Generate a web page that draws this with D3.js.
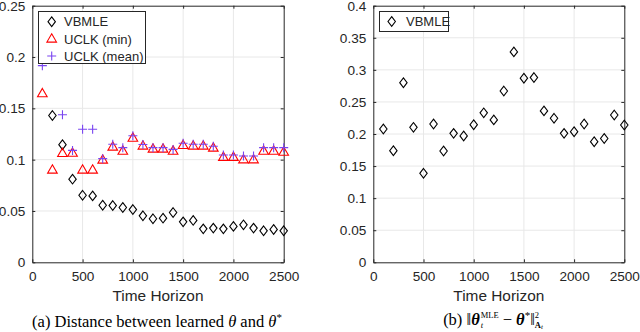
<!DOCTYPE html>
<html>
<head>
<meta charset="utf-8">
<script src="https://cdn.jsdelivr.net/npm/d3@7/dist/d3.min.js"></script>
<style>
  body { margin: 0; background: #fff; }
  svg { display: block; }
  text { font-family: "Liberation Sans", Arial, sans-serif; fill: #262626; }
  .cap { font-family: "Liberation Serif", "Times New Roman", serif; fill: #000; }
</style>
</head>
<body>
<svg width="640" height="332"></svg>
<script>
// left panel: distance between learned theta and theta*
var vbmleX  = [200,300,400,500,600,700,800,900,1000,1100,1200,1300,1400,1500,1600,1700,1800,1900,2000,2100,2200,2300,2400,2500];
var vbmleY  = [0.143,0.1146,0.081,0.0653,0.0647,0.0556,0.0553,0.0534,0.0514,0.0453,0.0424,0.043,0.0485,0.0394,0.0408,0.0326,0.0333,0.0326,0.035,0.0365,0.0333,0.0307,0.032,0.0307];
var minX    = [100,200,300,400,500,600,700,800,900,1000,1100,1200,1300,1400,1500,1600,1700,1800,1900,2000,2100,2200,2300,2400,2500];
var minY    = [0.164,0.0896,0.1058,0.106,0.0896,0.0896,0.0993,0.112,0.108,0.1207,0.113,0.110,0.110,0.108,0.1136,0.113,0.113,0.111,0.102,0.102,0.0996,0.0996,0.108,0.108,0.107];
var meanX   = [100,300,400,500,600,700,800,900,1000,1100,1200,1300,1400,1500,1600,1700,1800,1900,2000,2100,2200,2300,2400,2500];
var meanY   = [0.1916,0.1437,0.109,0.1297,0.1297,0.101,0.115,0.1117,0.1233,0.1148,0.1117,0.1117,0.110,0.116,0.115,0.115,0.113,0.1045,0.1045,0.1035,0.1035,0.1117,0.1117,0.1117];

// right panel: weighted norm of MLE error
var normX   = [100,200,300,400,500,600,700,800,900,1000,1100,1200,1300,1400,1500,1600,1700,1800,1900,2000,2100,2200,2300,2400,2500];
var normY   = [0.2078,0.174,0.280,0.2104,0.1387,0.2156,0.1735,0.201,0.197,0.2145,0.233,0.222,0.267,0.328,0.287,0.288,0.236,0.2245,0.201,0.2036,0.2156,0.188,0.193,0.2296,0.214];

var xTicks  = [0,500,1000,1500,2000,2500];
var yTicksA = [0,0.05,0.1,0.15,0.2,0.25];
var yTicksB = [0,0.05,0.1,0.15,0.2,0.25,0.3,0.35,0.4];

var svg = d3.select("svg");
var top_ = 5.7, bottom = 262.3;

// MATLAB-like marker shapes
var diamond  = "M0,-4.8L3.7,0L0,4.8L-3.7,0Z";
var triangle = d3.symbol().type(d3.symbolTriangle).size(40);
var cross    = "M-4.5,0H4.5M0,-4.5V4.5";

function panel(x0, x1, yMax, yTicks) {
  var g = svg.append("g");
  var x = d3.scaleLinear().domain([0, 2500]).range([x0, x1]);
  var y = d3.scaleLinear().domain([0, yMax]).range([bottom, top_]);

  // grid
  g.selectAll(".gx").data(xTicks.slice(1, -1)).enter().append("line")
    .attr("x1", d => x(d)).attr("x2", d => x(d))
    .attr("y1", top_).attr("y2", bottom)
    .attr("stroke", "#e8e8e8").attr("stroke-width", 1);
  g.selectAll(".gy").data(yTicks.slice(1, -1)).enter().append("line")
    .attr("x1", x0).attr("x2", x1)
    .attr("y1", d => y(d)).attr("y2", d => y(d))
    .attr("stroke", "#e8e8e8").attr("stroke-width", 1);

  // axes (ticks inward), plus box mirror
  var fmt = d => d === 0 ? "0" : String(d);
  g.append("g").attr("transform", "translate(0," + bottom + ")")
    .call(d3.axisBottom(x).tickValues(xTicks).tickSizeInner(-3).tickSizeOuter(0).tickPadding(9).tickFormat(fmt));
  g.append("g").attr("transform", "translate(0," + top_ + ")")
    .call(d3.axisTop(x).tickValues(xTicks).tickSizeInner(-3).tickSizeOuter(0).tickFormat(""));
  g.append("g").attr("transform", "translate(" + x0 + ",0)")
    .call(d3.axisLeft(y).tickValues(yTicks).tickSizeInner(-3).tickSizeOuter(0).tickPadding(7).tickFormat(fmt));
  g.append("g").attr("transform", "translate(" + x1 + ",0)")
    .call(d3.axisRight(y).tickValues(yTicks).tickSizeInner(-3).tickSizeOuter(0).tickFormat(""));
  g.selectAll(".domain").attr("stroke", "#262626");
  g.selectAll(".tick line").attr("stroke", "#262626");
  g.selectAll(".tick text").attr("font-size", 13.6).attr("fill", "#262626")
    .style("font-family", "'Liberation Sans', Arial, sans-serif");

  g.append("text").attr("x", (x0 + x1) / 2).attr("y", 301)
    .attr("text-anchor", "middle").attr("font-size", 15.4).text("Time Horizon");

  return { g: g, x: x, y: y };
}

// ---- left panel
var A = panel(32.3, 283.7, 0.25, yTicksA);
A.g.selectAll(".vb").data(vbmleX).enter().append("path")
  .attr("d", diamond).attr("transform", (d, i) => "translate(" + A.x(d) + "," + A.y(vbmleY[i]) + ")")
  .attr("fill", "none").attr("stroke", "#000").attr("stroke-width", 1.1);
A.g.selectAll(".mn").data(minX).enter().append("path")
  .attr("d", triangle).attr("transform", (d, i) => "translate(" + A.x(d) + "," + A.y(minY[i]) + ")")
  .attr("fill", "none").attr("stroke", "#ff0000").attr("stroke-width", 1.1);
A.g.selectAll(".me").data(meanX).enter().append("path")
  .attr("d", cross).attr("transform", (d, i) => "translate(" + A.x(d) + "," + A.y(meanY[i]) + ")")
  .attr("fill", "none").attr("stroke", "#7a45f0").attr("stroke-width", 1.1);

// legend
var L = A.g.append("g");
L.append("rect").attr("x", 38.5).attr("y", 11.5).attr("width", 107).attr("height", 52)
  .attr("fill", "#fff").attr("stroke", "#262626").attr("stroke-width", 1);
var legA = [
  { name: "VBMLE", y: 21.7, d: diamond, c: "#000" },
  { name: "UCLK (min)", y: 39.3, d: triangle, c: "#ff0000" },
  { name: "UCLK (mean)", y: 56, d: cross, c: "#7a45f0" }
];
legA.forEach(function(e) {
  L.append("path").attr("d", e.d).attr("transform", "translate(51.7," + e.y + ")")
    .attr("fill", "none").attr("stroke", e.c).attr("stroke-width", 1.1);
  L.append("text").attr("x", 64).attr("y", e.y + 4.6).attr("font-size", 13).text(e.name);
});

// ---- right panel
var B = panel(373.3, 624.3, 0.4, yTicksB);
B.g.selectAll(".nb").data(normX).enter().append("path")
  .attr("d", diamond).attr("transform", (d, i) => "translate(" + B.x(d) + "," + B.y(normY[i]) + ")")
  .attr("fill", "none").attr("stroke", "#000").attr("stroke-width", 1.1);
var LB = B.g.append("g");
LB.append("rect").attr("x", 379.5).attr("y", 11.5).attr("width", 69).attr("height", 20)
  .attr("fill", "#fff").attr("stroke", "#262626").attr("stroke-width", 1);
LB.append("path").attr("d", diamond).attr("transform", "translate(391.7,21.5)")
  .attr("fill", "none").attr("stroke", "#000").attr("stroke-width", 1.1);
LB.append("text").attr("x", 406).attr("y", 26.1).attr("font-size", 13).text("VBMLE");

// ---- captions
var c1 = svg.append("text").attr("class", "cap").attr("x", 157).attr("y", 326.5)
  .attr("text-anchor", "middle").attr("font-size", 16.5);
c1.append("tspan").text("(a) Distance between learned ");
c1.append("tspan").attr("font-style", "italic").text("θ");
c1.append("tspan").text(" and ");
c1.append("tspan").attr("font-style", "italic").text("θ");
c1.append("tspan").attr("dy", -6).attr("font-size", 11).text("*");

var c2 = svg.append("text").attr("class", "cap").attr("x", 493).attr("y", 324.5)
  .attr("text-anchor", "middle").attr("font-size", 16.5);
c2.append("tspan").text("(b) ‖");
c2.append("tspan").attr("font-style", "italic").attr("font-weight", "bold").text("θ");
c2.append("tspan").attr("dx", 1).attr("dy", -7).attr("font-size", 8.5).text("MLE");
c2.append("tspan").attr("dx", -18).attr("dy", 10).attr("font-size", 8.5).attr("font-style", "italic").text("t");
c2.append("tspan").attr("dx", 15.5).attr("dy", -3).text(" − ");
c2.append("tspan").attr("font-style", "italic").attr("font-weight", "bold").text("θ");
c2.append("tspan").attr("dy", -6).attr("font-size", 11).text("*");
c2.append("tspan").attr("dy", 6).text("‖");
c2.append("tspan").attr("dy", -7).attr("font-size", 8.5).text("2");
c2.append("tspan").attr("dx", -4.3).attr("dy", 10).attr("font-size", 8.5).attr("font-weight", "bold").text("A");
c2.append("tspan").attr("dy", 1.5).attr("font-size", 7).attr("font-style", "italic").text("t");
</script>
</body>
</html>
